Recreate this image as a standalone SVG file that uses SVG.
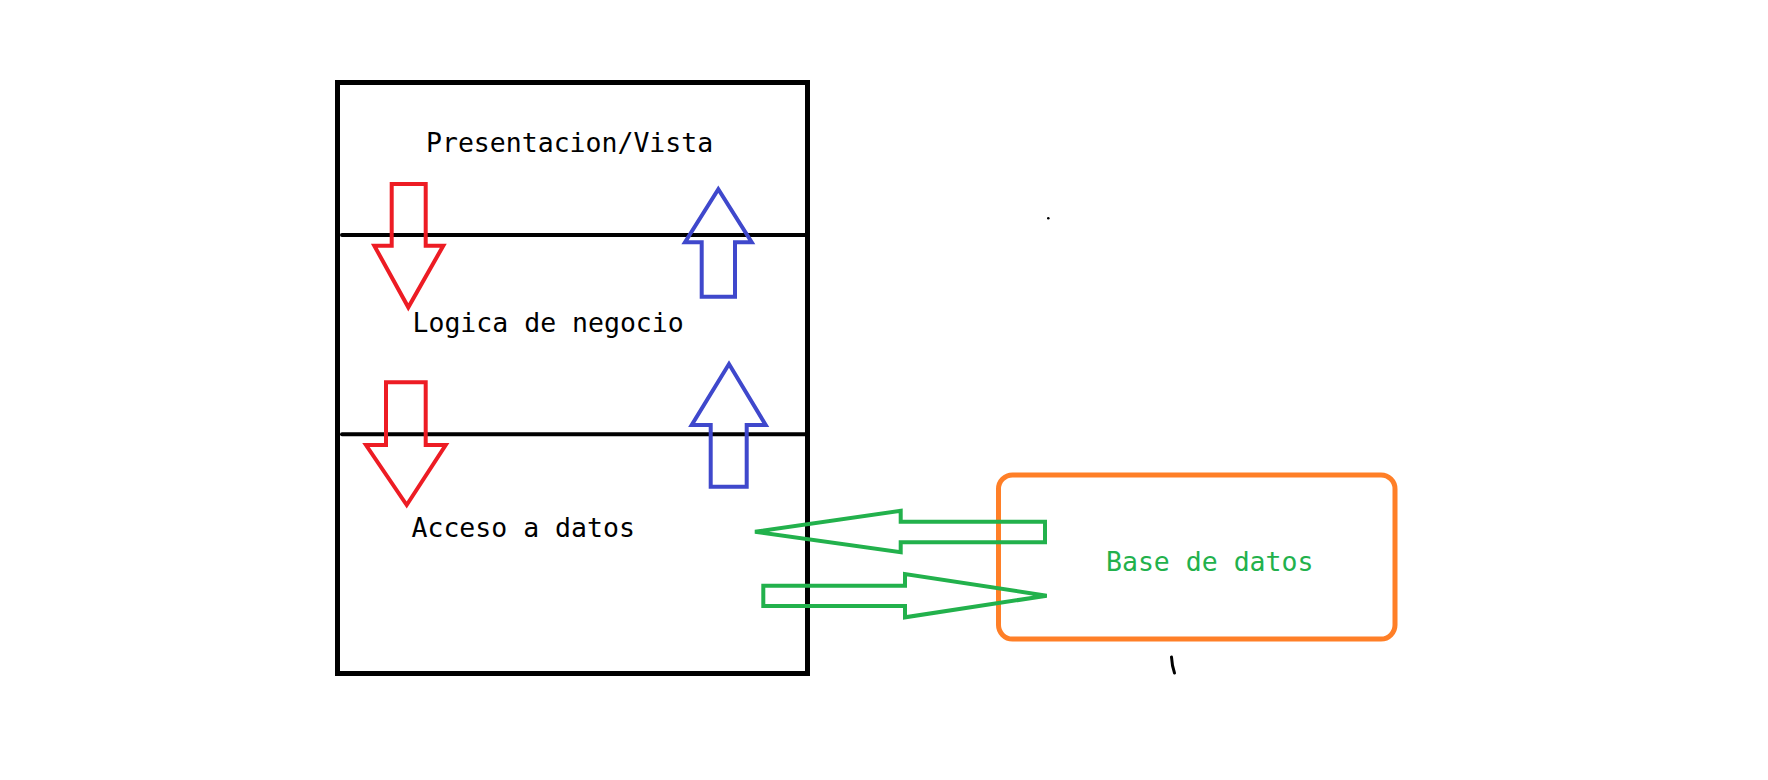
<svg xmlns="http://www.w3.org/2000/svg" width="1768" height="780" viewBox="0 0 1768 780">
<style>
.lbl{font-family:"DejaVu Sans Mono","Liberation Mono",monospace;font-size:26.5px;fill:#000}
.arr{fill:none;stroke-width:4;stroke-linejoin:miter}
.red{stroke:#ed1c24}
.blue{stroke:#3f48cc}
.green{stroke:#22b14c}
</style>
<rect width="1768" height="780" fill="#fff"/>
<g id="capas">
<rect x="337.5" y="82.5" width="470" height="591" fill="none" stroke="#000" stroke-width="5"/>
<line x1="342" y1="235" x2="805" y2="235" stroke="#000" stroke-width="4" stroke-linecap="round"/>
<line x1="342" y1="434.3" x2="805" y2="434.3" stroke="#000" stroke-width="4" stroke-linecap="round"/>
<text class="lbl" x="426" y="151.5">Presentacion/Vista</text>
<text class="lbl" x="412.5" y="331.5">Logica de negocio</text>
<text class="lbl" x="411.5" y="537.3">Acceso a datos</text>
</g>
<g id="base-de-datos">
<rect x="998.5" y="475" width="396.5" height="164" rx="14" ry="14" fill="none" stroke="#ff7f27" stroke-width="5"/>
<text class="lbl" x="1106" y="571" style="fill:#22b14c">Base de datos</text>
</g>
<g id="conectores">
<path class="arr red" d="M391.7,184 H425.7 V245.7 H443.3 L408.3,307.3 L374.3,245.7 H391.7 Z"/>
<path class="arr red" d="M386,382.3 H425.7 V445 H445.7 L406.7,505 L366,445 H386 Z"/>
<path class="arr blue" d="M701.7,296.7 H735 V242.3 H751.7 L718.3,189.3 L685,242.3 H701.7 Z"/>
<path class="arr blue" d="M710.7,486.7 H746.7 V425 H765.7 L729,364 L691.7,425 H710.7 Z"/>
<path class="arr green" d="M1045,521.7 V542.3 H900.7 V552.3 L755,531.7 L900.7,510.7 V521.7 Z"/>
<path class="arr green" d="M763.3,585.7 H905 V574 L1046.7,595.7 L905,617.3 V606 H763.3 Z"/>
</g>
<g id="marcas">
<circle cx="1048.3" cy="218.3" r="1.3" fill="#000"/>
<path d="M1171.5,657 Q1172,666 1174.5,673" fill="none" stroke="#000" stroke-width="3" stroke-linecap="round"/>
</g>
</svg>
